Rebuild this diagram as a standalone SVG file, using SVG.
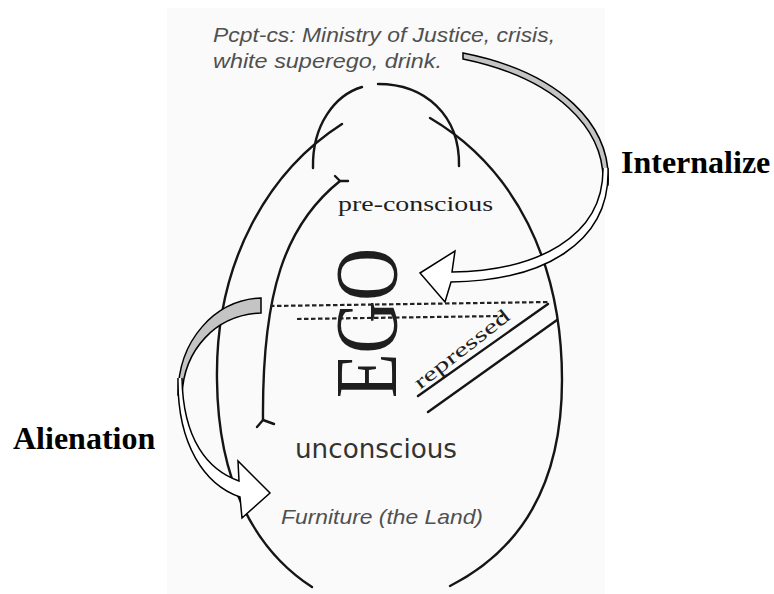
<svg xmlns="http://www.w3.org/2000/svg" width="774" height="594" viewBox="0 0 774 594">
<style>
.ink{fill:none;stroke:#151515;stroke-width:2.4;stroke-linecap:round;stroke-linejoin:round}
.dot{fill:none;stroke:#222;stroke-width:2.2;stroke-dasharray:4.5 2.5}
.cap{font-family:"Liberation Sans",Arial,sans-serif;font-style:italic;fill:#505050}
.hand{font-family:"Liberation Serif","Times New Roman",serif;fill:#1e1e1e}
.lab{font-family:"Liberation Serif","Times New Roman",serif;font-weight:bold;font-size:32px;fill:#000}
.edge{fill:none;stroke:#000;stroke-width:1.5;stroke-linejoin:miter}
</style>
<rect x="0" y="0" width="774" height="594" fill="#fff"/>
<rect x="167" y="8" width="438" height="586" fill="#fafafa"/>

<g id="caption">
<text class="cap" x="213" y="42" font-size="21" textLength="342" lengthAdjust="spacingAndGlyphs">Pcpt-cs: Ministry of Justice, crisis,</text>
<text class="cap" x="213" y="68" font-size="21" textLength="229" lengthAdjust="spacingAndGlyphs">white superego, drink.</text>
</g>

<g id="egg">
<path class="ink" d="M342,124 C270,170 215,260 217,380 C218,482 255,550 312,587"/>
<path class="ink" d="M430,118 C515,168 562,262 562,380 C562,478 525,548 450,586"/>
<path class="ink" d="M313,168 C312,125 335,95 362,87"/>
<path class="ink" d="M378,84 C425,84 460,115 459,166"/>
</g>

<g id="preconscious">
<path class="ink" d="M340,181 C285,225 262,292 263,420" stroke-width="2.2"/>
<path class="ink" d="M335,176 L340,181 L348,181" stroke-width="2"/>
<path class="ink" d="M257,427 L263,420 L274,424" stroke-width="2"/>
<text class="hand" x="338" y="211" font-size="22" textLength="155" lengthAdjust="spacingAndGlyphs">pre-conscious</text>
</g>

<g id="ego">
<text class="hand" transform="translate(396,398) rotate(-90)" x="0" y="0" font-size="88" textLength="150" lengthAdjust="spacingAndGlyphs">EGO</text>
</g>

<g id="bar">
<path class="dot" d="M270,306 L550,302"/>
<path class="dot" d="M297,319 L503,316"/>
</g>

<g id="repressed">
<path class="ink" d="M418,396 L548,304" stroke-width="2"/>
<path class="ink" d="M428,412 L557,320" stroke-width="1.6" stroke="#333"/>
<text class="hand" transform="translate(420,390) rotate(-38)" x="0" y="0" font-size="20" textLength="116" lengthAdjust="spacingAndGlyphs">repressed</text>
</g>

<g id="unconscious">
<text x="295" y="458" font-family="'DejaVu Sans',sans-serif" font-size="27" fill="#333" textLength="162" lengthAdjust="spacingAndGlyphs">unconscious</text>
</g>

<g id="furniture">
<text class="cap" x="281" y="524" font-size="21" textLength="202" lengthAdjust="spacingAndGlyphs">Furniture (the Land)</text>
</g>

<g id="label-internalize">
<text class="lab" x="621" y="173">Internalize</text>
</g>
<g id="label-alienation">
<text class="lab" x="13" y="449">Alienation</text>
</g>

<g id="connectors">
<path d="M463,53 C560,72 612,125 608,185 L603,185 C606,128 555,78 463,59 Z" fill="#c4c4c4" stroke="#000" stroke-width="1.5"/>
<path d="M608,168 C611,245 540,281 451,282 L445,302 L420,273 L455,251 L452,272 C535,271 604,238 603,168 Z" fill="#fff" stroke="none"/>
<path class="edge" d="M608,168 C611,245 540,281 451,282 L445,302 L420,273 L455,251 L452,272 C535,271 604,238 603,168"/>
<path d="M261,298 C215,300 178,340 178,395 L182,395 C184,350 215,315 261,313 Z" fill="#c4c4c4" stroke="#000" stroke-width="1.5"/>
<path d="M178,378 C177,445 205,485 240,497 L242,518 L270,493 L238,461 L239,481 C208,470 183,440 182,378 Z" fill="#fff" stroke="none"/>
<path class="edge" d="M178,378 C177,445 205,485 240,497 L242,518 L270,493 L238,461 L239,481 C208,470 183,440 182,378"/>
</g>
</svg>
